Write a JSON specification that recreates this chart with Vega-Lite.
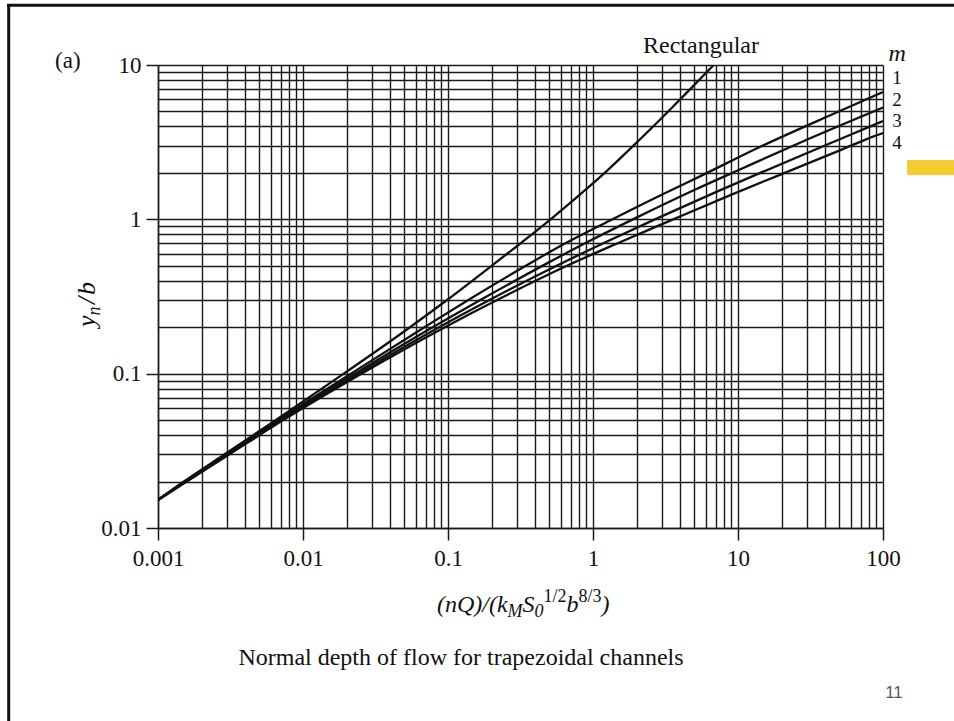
{
  "$schema": "https://vega.github.io/schema/vega-lite/v6.json",
  "width": 725,
  "height": 463,
  "autosize": {"type": "none"},
  "padding": {"left": 158, "top": 65, "right": 71, "bottom": 193},
  "background": "white",
  "config": {"view": {"stroke": null}},
  "data": {"values": [{}]},
  "datasets": {
    "curves": [
      {"series": "Rectangular", "x": 0.001, "y": 0.0152},
      {"series": "Rectangular", "x": 0.00145, "y": 0.0195},
      {"series": "Rectangular", "x": 0.0028, "y": 0.0295},
      {"series": "Rectangular", "x": 0.0064, "y": 0.0495},
      {"series": "Rectangular", "x": 0.0191, "y": 0.1},
      {"series": "Rectangular", "x": 0.0547, "y": 0.2},
      {"series": "Rectangular", "x": 0.0985, "y": 0.3},
      {"series": "Rectangular", "x": 0.2, "y": 0.5},
      {"series": "Rectangular", "x": 0.317, "y": 0.7},
      {"series": "Rectangular", "x": 0.51, "y": 1.0},
      {"series": "Rectangular", "x": 0.85, "y": 1.5},
      {"series": "Rectangular", "x": 1.205, "y": 2},
      {"series": "Rectangular", "x": 1.9, "y": 3},
      {"series": "Rectangular", "x": 3.3, "y": 5},
      {"series": "Rectangular", "x": 4.7, "y": 7},
      {"series": "Rectangular", "x": 6.8, "y": 10},
      {"series": "m1", "x": 0.001, "y": 0.0152},
      {"series": "m1", "x": 0.00147, "y": 0.0195},
      {"series": "m1", "x": 0.00288, "y": 0.0295},
      {"series": "m1", "x": 0.00674, "y": 0.05},
      {"series": "m1", "x": 0.0214, "y": 0.1},
      {"series": "m1", "x": 0.0688, "y": 0.2},
      {"series": "m1", "x": 0.138, "y": 0.3},
      {"series": "m1", "x": 0.344, "y": 0.5},
      {"series": "m1", "x": 0.645, "y": 0.7},
      {"series": "m1", "x": 1.3, "y": 0.98},
      {"series": "m1", "x": 3.0, "y": 1.45},
      {"series": "m1", "x": 5.6, "y": 1.92},
      {"series": "m1", "x": 14.0, "y": 2.93},
      {"series": "m1", "x": 47.3, "y": 4.9},
      {"series": "m1", "x": 100, "y": 6.68},
      {"series": "m2", "x": 0.001, "y": 0.0152},
      {"series": "m2", "x": 0.00149, "y": 0.0195},
      {"series": "m2", "x": 0.00294, "y": 0.0295},
      {"series": "m2", "x": 0.00695, "y": 0.05},
      {"series": "m2", "x": 0.0228, "y": 0.1},
      {"series": "m2", "x": 0.0783, "y": 0.2},
      {"series": "m2", "x": 0.167, "y": 0.3},
      {"series": "m2", "x": 0.457, "y": 0.505},
      {"series": "m2", "x": 0.922, "y": 0.715},
      {"series": "m2", "x": 2.01, "y": 1.03},
      {"series": "m2", "x": 5.08, "y": 1.56},
      {"series": "m2", "x": 10.04, "y": 2.08},
      {"series": "m2", "x": 27.0, "y": 3.15},
      {"series": "m2", "x": 100, "y": 5.3},
      {"series": "m3", "x": 0.001, "y": 0.0152},
      {"series": "m3", "x": 0.0015, "y": 0.0195},
      {"series": "m3", "x": 0.00298, "y": 0.0295},
      {"series": "m3", "x": 0.00713, "y": 0.05},
      {"series": "m3", "x": 0.0241, "y": 0.1},
      {"series": "m3", "x": 0.0868, "y": 0.2},
      {"series": "m3", "x": 0.193, "y": 0.3},
      {"series": "m3", "x": 0.561, "y": 0.5},
      {"series": "m3", "x": 1.178, "y": 0.7},
      {"series": "m3", "x": 2.672, "y": 1.0},
      {"series": "m3", "x": 7.03, "y": 1.5},
      {"series": "m3", "x": 14.24, "y": 2.0},
      {"series": "m3", "x": 39.35, "y": 3.0},
      {"series": "m3", "x": 81.9, "y": 4.0},
      {"series": "m3", "x": 100, "y": 4.33},
      {"series": "m4", "x": 0.001, "y": 0.0152},
      {"series": "m4", "x": 0.00151, "y": 0.0195},
      {"series": "m4", "x": 0.00302, "y": 0.0295},
      {"series": "m4", "x": 0.0073, "y": 0.05},
      {"series": "m4", "x": 0.0253, "y": 0.1},
      {"series": "m4", "x": 0.0952, "y": 0.2},
      {"series": "m4", "x": 0.218, "y": 0.3},
      {"series": "m4", "x": 0.661, "y": 0.5},
      {"series": "m4", "x": 1.427, "y": 0.69},
      {"series": "m4", "x": 3.32, "y": 0.97},
      {"series": "m4", "x": 8.94, "y": 1.44},
      {"series": "m4", "x": 18.35, "y": 1.9},
      {"series": "m4", "x": 51.4, "y": 2.82},
      {"series": "m4", "x": 76.5, "y": 3.3},
      {"series": "m4", "x": 100, "y": 3.62}
    ]
  },
  "layer": [
    {
      "data": {"name": "curves"},
      "mark": {"type": "line", "color": "#111111", "strokeWidth": 2.3, "interpolate": "monotone", "clip": true},
      "encoding": {
        "x": {
          "field": "x", "type": "quantitative",
          "scale": {"type": "log", "domain": [0.001, 100], "nice": false},
          "axis": {
            "values": [0.001,0.002,0.003,0.004,0.005,0.006,0.007,0.008,0.009,0.01,0.02,0.03,0.04,0.05,0.06,0.07,0.08,0.09,0.1,0.2,0.3,0.4,0.5,0.6,0.7,0.8,0.9,1,2,3,4,5,6,7,8,9,10,20,30,40,50,60,70,80,90,100],
            "grid": true, "gridColor": "#1a1a1a", "gridWidth": 1.4, "gridOpacity": 1,
            "domain": true, "domainColor": "#1a1a1a", "domainWidth": 1.5,
            "ticks": true, "tickColor": "#1a1a1a", "tickWidth": 1.5, "tickSize": 12,
            "tickOpacity": {"condition": {"test": "abs(log(datum.value)/LN10 - round(log(datum.value)/LN10)) < 0.000001", "value": 1}, "value": 0},
            "labelExpr": "abs(log(datum.value)/LN10 - round(log(datum.value)/LN10)) < 0.000001 ? '' + datum.value : ''",
            "labelFont": "Liberation Serif", "labelFontSize": 23, "labelColor": "#111111",
            "labelPadding": 7, "labelOverlap": false, "labelFlush": false,
            "title": null
          }
        },
        "y": {
          "field": "y", "type": "quantitative",
          "scale": {"type": "log", "domain": [0.01, 10], "nice": false},
          "axis": {
            "values": [0.01,0.02,0.03,0.04,0.05,0.06,0.07,0.08,0.09,0.1,0.2,0.3,0.4,0.5,0.6,0.7,0.8,0.9,1,2,3,4,5,6,7,8,9,10],
            "grid": true, "gridColor": "#1a1a1a", "gridWidth": 1.4, "gridOpacity": 1,
            "domain": true, "domainColor": "#1a1a1a", "domainWidth": 1.5,
            "ticks": true, "tickColor": "#1a1a1a", "tickWidth": 1.5, "tickSize": 12,
            "tickOpacity": {"condition": {"test": "abs(log(datum.value)/LN10 - round(log(datum.value)/LN10)) < 0.000001", "value": 1}, "value": 0},
            "labelExpr": "abs(log(datum.value)/LN10 - round(log(datum.value)/LN10)) < 0.000001 ? '' + datum.value : ''",
            "labelFont": "Liberation Serif", "labelFontSize": 23, "labelColor": "#111111",
            "labelPadding": 5, "labelOverlap": false, "labelFlush": false,
            "title": null
          }
        },
        "detail": {"field": "series", "type": "nominal"}
      }
    },
    {"mark": {"type": "rule", "color": "#111111", "strokeWidth": 3, "clip": false},
     "encoding": {"x": {"datum": 0.000091}, "x2": {"datum": 340}, "y": {"datum": 24.4}}},
    {"mark": {"type": "rule", "color": "#111111", "strokeWidth": 3, "clip": false},
     "encoding": {"x": {"datum": 0.0000934}, "y": {"datum": 24.8}, "y2": {"datum": 0.00049}}},
    {"mark": {"type": "rect", "color": "#f5c518", "opacity": 0.9, "clip": false},
     "encoding": {"x": {"datum": 146.6}, "x2": {"datum": 309}, "y": {"datum": 2.42}, "y2": {"datum": 1.94}}},
    {"mark": {"type": "text", "text": "(a)", "font": "Liberation Serif", "fontSize": 23, "align": "left", "baseline": "alphabetic", "color": "#111111"},
     "encoding": {"x": {"datum": 0.000195}, "y": {"datum": 9.56}}},
    {"mark": {"type": "text", "text": "Rectangular", "font": "Liberation Serif", "fontSize": 24, "align": "left", "baseline": "alphabetic", "color": "#111111"},
     "encoding": {"x": {"datum": 2.213}, "y": {"datum": 11.96}}},
    {"mark": {"type": "text", "text": "m", "font": "Liberation Serif", "fontStyle": "italic", "fontSize": 24, "align": "center", "baseline": "alphabetic", "color": "#111111"},
     "encoding": {"x": {"datum": 125}, "y": {"datum": 10.615}}},
    {"mark": {"type": "text", "text": "1", "font": "Liberation Serif", "fontSize": 19, "align": "center", "baseline": "alphabetic", "color": "#111111"},
     "encoding": {"x": {"datum": 125}, "y": {"datum": 7.478}}},
    {"mark": {"type": "text", "text": "2", "font": "Liberation Serif", "fontSize": 19, "align": "center", "baseline": "alphabetic", "color": "#111111"},
     "encoding": {"x": {"datum": 125}, "y": {"datum": 5.424}}},
    {"mark": {"type": "text", "text": "3", "font": "Liberation Serif", "fontSize": 19, "align": "center", "baseline": "alphabetic", "color": "#111111"},
     "encoding": {"x": {"datum": 125}, "y": {"datum": 3.936}}},
    {"mark": {"type": "text", "text": "4", "font": "Liberation Serif", "fontSize": 19, "align": "center", "baseline": "alphabetic", "color": "#111111"},
     "encoding": {"x": {"datum": 125}, "y": {"datum": 2.856}}},
    {"mark": {"type": "text", "text": "(nQ)/(k", "font": "Liberation Serif", "fontStyle": "italic", "fontSize": 24, "align": "left", "baseline": "alphabetic", "color": "#111111", "dx": 0, "dy": 0},
     "encoding": {"x": {"datum": 0.0839}, "y": {"datum": 0.00285}}},
    {"mark": {"type": "text", "text": "M", "font": "Liberation Serif", "fontStyle": "italic", "fontSize": 18, "align": "left", "baseline": "alphabetic", "color": "#111111", "dx": 70.6, "dy": 5},
     "encoding": {"x": {"datum": 0.0839}, "y": {"datum": 0.00285}}},
    {"mark": {"type": "text", "text": "S", "font": "Liberation Serif", "fontStyle": "italic", "fontSize": 24, "align": "left", "baseline": "alphabetic", "color": "#111111", "dx": 85.6, "dy": 0},
     "encoding": {"x": {"datum": 0.0839}, "y": {"datum": 0.00285}}},
    {"mark": {"type": "text", "text": "0", "font": "Liberation Serif", "fontStyle": "italic", "fontSize": 18, "align": "left", "baseline": "alphabetic", "color": "#111111", "dx": 97.6, "dy": 5},
     "encoding": {"x": {"datum": 0.0839}, "y": {"datum": 0.00285}}},
    {"mark": {"type": "text", "text": "1/2", "font": "Liberation Serif", "fontSize": 18, "align": "left", "baseline": "alphabetic", "color": "#111111", "dx": 106.6, "dy": -10},
     "encoding": {"x": {"datum": 0.0839}, "y": {"datum": 0.00285}}},
    {"mark": {"type": "text", "text": "b", "font": "Liberation Serif", "fontStyle": "italic", "fontSize": 24, "align": "left", "baseline": "alphabetic", "color": "#111111", "dx": 129.6, "dy": 0},
     "encoding": {"x": {"datum": 0.0839}, "y": {"datum": 0.00285}}},
    {"mark": {"type": "text", "text": "8/3", "font": "Liberation Serif", "fontSize": 18, "align": "left", "baseline": "alphabetic", "color": "#111111", "dx": 141.6, "dy": -10},
     "encoding": {"x": {"datum": 0.0839}, "y": {"datum": 0.00285}}},
    {"mark": {"type": "text", "text": ")", "font": "Liberation Serif", "fontStyle": "italic", "fontSize": 24, "align": "left", "baseline": "alphabetic", "color": "#111111", "dx": 164.6, "dy": 0},
     "encoding": {"x": {"datum": 0.0839}, "y": {"datum": 0.00285}}},
    {"mark": {"type": "text", "text": "y", "font": "Liberation Serif", "fontStyle": "italic", "fontSize": 26, "align": "left", "baseline": "alphabetic", "angle": 270, "color": "#111111", "dx": 0, "dy": 0},
     "encoding": {"x": {"datum": 0.000368}, "y": {"datum": 0.2004}}},
    {"mark": {"type": "text", "text": "n", "font": "Liberation Serif", "fontStyle": "italic", "fontSize": 18, "align": "left", "baseline": "alphabetic", "angle": 270, "color": "#111111", "dx": 11.5, "dy": 5},
     "encoding": {"x": {"datum": 0.000368}, "y": {"datum": 0.2004}}},
    {"mark": {"type": "text", "text": "/", "font": "Liberation Serif", "fontStyle": "italic", "fontSize": 26, "align": "left", "baseline": "alphabetic", "angle": 270, "color": "#111111", "dx": 23, "dy": 0},
     "encoding": {"x": {"datum": 0.000368}, "y": {"datum": 0.2004}}},
    {"mark": {"type": "text", "text": "b", "font": "Liberation Serif", "fontStyle": "italic", "fontSize": 26, "align": "left", "baseline": "alphabetic", "angle": 270, "color": "#111111", "dx": 32, "dy": 0},
     "encoding": {"x": {"datum": 0.000368}, "y": {"datum": 0.2004}}},
    {"mark": {"type": "text", "text": "Normal depth of flow for trapezoidal channels", "font": "Liberation Serif", "fontSize": 24, "align": "center", "baseline": "alphabetic", "color": "#111111"},
     "encoding": {"x": {"datum": 0.1229}, "y": {"datum": 0.001292}}},
    {"mark": {"type": "text", "text": "11", "font": "Liberation Sans", "fontSize": 17, "align": "center", "baseline": "alphabetic", "color": "#595959"},
     "encoding": {"x": {"datum": 119.1}, "y": {"datum": 0.00079}}}
  ]
}
